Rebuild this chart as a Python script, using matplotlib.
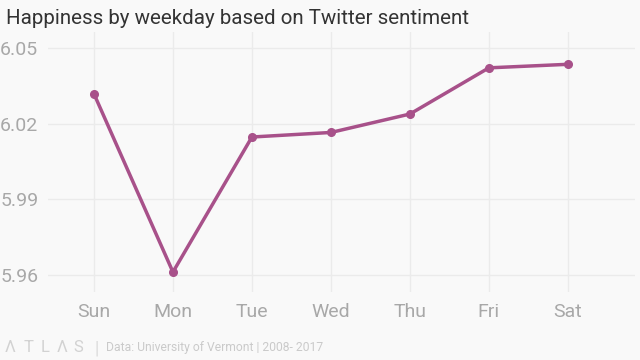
import matplotlib as mpl
mpl.use('Agg')
import matplotlib.pyplot as plt

days = ['Sun', 'Mon', 'Tue', 'Wed', 'Thu', 'Fri', 'Sat']
happiness = [6.0318, 5.9612, 6.0147, 6.0165, 6.0238, 6.0421, 6.0435]
y_ticks = [5.96, 5.99, 6.02, 6.05]

bg = '#f9f9f9'
line_col = '#a8518a'
grid_col = '#ebebeb'
tick_col = '#a8a8a8'

plt.rcParams['font.family'] = ['Roboto', 'DejaVu Sans']

fig = plt.figure(figsize=(6.4, 3.6), dpi=100, facecolor=bg)
# axes box in pixels: x 48..635, y 32..292 (from top)
ax = fig.add_axes([48 / 640, 1 - 292 / 360, (635 - 48) / 640, (292 - 32) / 360])
ax.set_facecolor(bg)

x = list(range(len(days)))
ax.plot(x, happiness, color=line_col, lw=2.5, marker='o', ms=5.5, zorder=3)

ax.set_xlim(-0.582, 6.85)
ax.set_ylim(5.9533, 6.0563)
ax.set_xticks(x)
ax.set_xticklabels(days)
ax.set_yticks(y_ticks)
ax.set_yticklabels(['%.2f' % v for v in y_ticks])

ax.grid(True, color=grid_col, lw=1)
ax.set_axisbelow(True)
for s in ax.spines.values():
    s.set_visible(False)
ax.tick_params(length=0, colors=tick_col, labelsize=14)
ax.tick_params(axis='x', pad=8)
ax.tick_params(axis='y', pad=7)

fig.text(6 / 640, 1 - 18 / 360, 'Happiness by weekday based on Twitter sentiment',
         fontsize=14.8, color='#333333', va='center', ha='left')

# footer
logo = ['\u039b', 'T', 'L', '\u039b', 'S']
logo_x = [5, 24, 41, 57, 73]
for ch, px in zip(logo, logo_x):
    fig.text(px / 640, 1 - 348 / 360, ch, fontsize=12, color='#d2d2d2',
             va='center', ha='left')
fig.text(94 / 640, 1 - 348 / 360, '|', fontsize=13, color='#dadada', va='center', ha='left')
fig.text(106 / 640, 1 - 348 / 360, 'Data: University of Vermont | 2008- 2017',
         fontsize=8.7, color='#cacaca', va='center', ha='left')

fig.savefig('out.png', dpi=100, facecolor=bg)
